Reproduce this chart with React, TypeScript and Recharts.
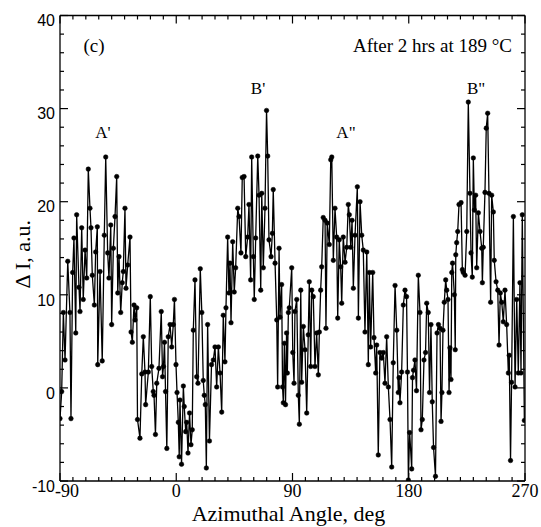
import React from 'react';
import { LineChart, Line, XAxis, YAxis, ReferenceDot } from 'recharts';

const ANGLES = [
  -90.0, -88.7, -87.4, -86.1, -84.0, -82.3, -81.5, -80.2, -79.2, -77.8,
  -77.1, -75.3, -74.5, -73.2, -72.0, -70.6, -69.3, -68.1, -66.8, -66.0,
  -65.0, -63.4, -62.4, -61.1, -60.8, -59.0, -57.3, -55.7, -54.6, -53.1,
  -52.1, -50.7, -50.0, -48.7, -47.4, -46.1, -45.3, -44.3, -43.0, -41.8,
  -41.0, -39.7, -38.9, -37.6, -35.8, -35.0, -34.0, -32.7, -31.9, -30.6,
  -30.0, -28.1, -26.7, -25.5, -24.2, -23.7, -21.6, -20.1, -19.0, -17.8,
  -17.2, -16.1, -15.1, -13.4, -11.6, -10.6, -9.9, -9.1, -8.3, -7.3,
  -6.2, -4.8, -3.5, -2.3, -1.4, -0.2, 0.6, 1.6, 2.3, 2.9,
  4.1, 5.5, 6.2, 7.3, 8.1, 9.1, 10.3, 11.4, 12.4, 13.2,
  14.5, 15.8, 16.8, 18.6, 19.8, 20.9, 21.7, 22.5, 23.3, 24.3,
  25.7, 27.3, 28.7, 30.0, 31.3, 32.6, 33.9, 35.2, 36.4, 37.7,
  38.5, 39.8, 40.8, 41.6, 42.4, 43.7, 44.9, 46.0, 47.6, 48.6,
  50.1, 51.1, 52.5, 53.8, 55.3, 56.3, 57.6, 58.4, 59.7, 60.4,
  61.5, 63.1, 64.1, 65.4, 66.2, 67.4, 68.7, 69.9, 70.8, 71.8,
  73.4, 74.4, 75.1, 76.5, 77.8, 78.5, 79.6, 80.3, 81.6, 82.3,
  82.9, 83.7, 84.6, 85.4, 86.0, 86.8, 87.5, 89.4, 90.2, 91.2,
  91.9, 93.3, 94.5, 95.3, 96.4, 97.1, 98.4, 99.7, 101.0, 102.2,
  103.0, 104.1, 104.9, 106.1, 107.4, 108.7, 110.0, 110.8, 111.8, 112.6,
  113.8, 115.2, 115.9, 116.9, 118.5, 119.6, 120.4, 121.6, 122.9, 124.2,
  125.0, 126.2, 127.3, 128.1, 129.3, 130.7, 132.0, 133.2, 134.0, 135.1,
  136.1, 137.1, 138.4, 140.2, 141.0, 142.3, 143.6, 144.8, 146.1, 147.5,
  148.7, 149.5, 150.5, 152.1, 153.1, 154.4, 155.2, 156.4, 157.7, 159.1,
  160.3, 161.6, 162.9, 164.2, 165.5, 166.8, 168.0, 169.4, 170.7, 171.9,
  172.5, 173.2, 174.5, 175.8, 177.1, 178.3, 179.0, 179.7, 180.7, 182.3,
  182.9, 183.7, 184.8, 186.0, 187.4, 188.7, 189.5, 190.5, 191.8, 193.0,
  193.9, 195.1, 196.1, 197.2, 198.2, 199.2, 200.7, 201.9, 203.0, 204.2,
  205.0, 205.7, 206.5, 207.5, 208.6, 209.4, 210.4, 211.2, 211.9, 212.7,
  213.3, 213.9, 215.3, 216.0, 216.4, 217.1, 217.9, 218.9, 220.5, 221.5,
  222.2, 223.6, 224.9, 226.1, 227.4, 228.2, 229.2, 230.0, 230.8, 231.8,
  232.6, 233.9, 235.2, 236.5, 237.0, 237.7, 239.0, 240.0, 241.1, 242.1,
  243.4, 244.2, 245.5, 246.2, 247.6, 248.9, 249.9, 250.9, 252.0, 253.2,
  254.5, 255.8, 257.1, 257.8, 258.8, 259.6, 261.0, 262.3, 263.6, 264.8,
  266.1, 266.9, 267.9, 269.5,
];

const VALUES = [
  -3.3, -0.4, 8.1, 3.0, 13.6, 8.1, -3.3, 12.4, 16.1, 5.9,
  18.6, 10.8, 8.2, 17.2, 9.5, 14.8, 11.8, 23.5, 19.3, 17.2,
  12.1, 8.9, 14.6, 17.3, 2.5, 12.5, 2.9, 16.4, 24.8, 14.5,
  11.8, 17.5, 6.8, 15.0, 18.4, 22.7, 10.2, 14.1, 8.1, 11.3,
  12.5, 19.3, 10.7, 13.2, 16.2, 6.0, 4.9, 8.9, 7.3, 8.6,
  -3.4, -5.4, 1.5, 5.5, 1.7, -1.8, 1.7, 9.8, 2.3, -0.4,
  -0.8, -5.0, 0.5, 2.1, 8.2, 1.2, 2.3, 4.9, -0.4, -6.5,
  5.5, 6.8, 4.4, 6.8, 9.5, 2.5, -0.5, -3.7, -7.4, -1.3,
  -8.2, 0.2, -2.0, -4.7, -3.7, -7.0, -2.7, -6.1, -4.5, 6.2,
  11.6, 1.2, 0.5, 12.8, 8.1, 0.8, -0.8, -1.8, -8.6, 6.8,
  -5.7, 2.5, 3.0, 4.4, 0.1, 4.4, 1.6, -2.6, 7.8, 2.8,
  8.6, 16.2, 10.2, 13.4, 7.0, 15.7, 10.3, 12.9, 19.3, 18.4,
  14.5, 22.6, 22.7, 14.1, 16.2, 19.7, 11.6, 24.8, 14.1, 9.5,
  16.1, 24.9, 20.7, 10.5, 20.9, 12.9, 19.3, 29.8, 24.9, 15.9,
  14.1, 16.6, 21.3, 13.4, 7.3, 0.1, 15.0, 7.6, 11.1, 0.1,
  -1.6, 4.8, -1.8, 5.9, 1.6, 8.1, 8.6, 12.9, 3.8, 0.5,
  8.2, 9.5, -0.8, -3.9, 10.5, 0.6, 6.6, 4.1, -2.7, 5.7,
  11.4, 2.3, 10.5, 9.8, 2.3, 5.9, 1.4, 6.0, 10.5, 13.0,
  18.3, 18.0, 6.4, 17.7, 15.4, 24.5, 24.8, 13.7, 19.3, 16.2,
  7.5, 15.9, 13.0, 9.1, 16.2, 13.5, 15.1, 19.7, 18.6, 15.1,
  18.0, 10.7, 16.4, 21.6, 7.5, 20.0, 16.4, 14.8, 6.0, 14.6,
  2.5, 12.4, 4.4, 12.4, 5.4, 1.6, 4.6, -7.2, 3.8, 3.2,
  3.8, 0.5, 5.5, 0.1, -3.4, -8.5, 2.7, 11.0, 6.2, -0.5,
  1.1, -1.6, 1.7, 8.9, 10.5, 9.8, 1.7, -9.9, -4.8, -8.7,
  1.1, 1.9, 3.0, -0.3, 12.1, 8.1, -4.5, -3.4, 3.0, 3.8,
  9.1, 8.1, -0.5, 6.8, -1.5, -6.4, -9.5, 5.9, 6.8, 6.4,
  -3.6, -0.5, 6.2, 9.2, 11.6, 10.5, 9.5, -0.5, 4.3, 0.9,
  12.4, 13.4, 10.0, 4.1, 14.3, 15.6, 16.8, 19.7, 19.9, 12.7,
  12.4, 12.1, 16.8, 30.7, 20.9, 14.5, 11.9, 24.7, 19.1, 20.7,
  12.9, 18.8, 16.8, 15.0, 11.3, 15.1, 21.0, 27.9, 29.5, 20.9,
  9.2, 20.7, 18.9, 13.7, 11.4, 10.5, 4.6, 10.2, 9.2, 7.1,
  10.5, 6.8, 1.6, 3.5, -7.8, 0.6, 18.4, 0.1, 9.5, 1.6,
  11.3, 1.6, 18.6, -3.5,
];

const X_TICKS = [
  -90, -80, -70, -60, -50, -40, -30, -20, -10, 0,
  10, 20, 30, 40, 50, 60, 70, 80, 90, 100,
  110, 120, 130, 140, 150, 160, 170, 180, 190, 200,
  210, 220, 230, 240, 250, 260, 270,
];
const X_MAJOR = [-90, 0, 90, 180, 270];
const Y_TICKS = [
  -10, -8, -6, -4, -2, 0, 2, 4, 6, 8, 10, 12, 14, 16, 18, 20,
  22, 24, 26, 28, 30, 32, 34, 36, 38, 40,
];
const Y_MAJOR = [-10, 0, 10, 20, 30, 40];

const data = ANGLES.map((a, i) => ({ angle: a, value: VALUES[i] }));

const SERIF = '"Liberation Serif", "Times New Roman", serif';
const SANS = '"Liberation Sans", Arial, sans-serif';
const INK = '#000';

const BottomTick = (props: any) => {
  const { x, y, payload } = props;
  const v = payload.value;
  const major = X_MAJOR.includes(v);
  return (
    <g>
      <line x1={x} y1={y} x2={x} y2={y - (major ? 8 : 4)} stroke={INK} strokeWidth={1.2} />
      {major && (
        <text x={x + (v === -90 ? 7 : 0)} y={y + 16} textAnchor="middle" fontFamily={SERIF} fontSize={18} fill={INK}>
          {String(v)}
        </text>
      )}
    </g>
  );
};

const TopTick = (props: any) => {
  const { x, y, payload } = props;
  const major = X_MAJOR.includes(payload.value);
  return <line x1={x} y1={y} x2={x} y2={y + (major ? 8 : 4)} stroke={INK} strokeWidth={1.2} />;
};

const LeftTick = (props: any) => {
  const { x, y, payload } = props;
  const v = payload.value;
  const major = Y_MAJOR.includes(v);
  return (
    <g>
      <line x1={x} y1={y} x2={x + (major ? 8 : 4)} y2={y} stroke={INK} strokeWidth={1.2} />
      {major && (
        <text x={x - 5} y={y + 5} dy="0.36em" textAnchor="end" fontFamily={SANS} fontSize={16} fill={INK}>
          {String(v)}
        </text>
      )}
    </g>
  );
};

const RightTick = (props: any) => {
  const { x, y, payload } = props;
  const major = Y_MAJOR.includes(payload.value);
  return <line x1={x} y1={y} x2={x - (major ? 8 : 4)} y2={y} stroke={INK} strokeWidth={1.2} />;
};

const makeText = (txt: string, size: number, anchor: string) => (p: any) => (
  <text x={p.cx} y={p.cy} dy="0.35em" textAnchor={anchor} fontFamily={SERIF} fontSize={size} fill={INK}>
    {txt}
  </text>
);

export default function App() {
  return (
    <div style={{ position: 'absolute', left: 0, top: 0, background: '#fff' }}>
      <LineChart width={541} height={527} data={data} margin={{ top: 14.5, right: 15, bottom: 0, left: 0 }}>
        <XAxis
          xAxisId="b"
          dataKey="angle"
          type="number"
          domain={[-90, 270]}
          ticks={X_TICKS}
          interval={0}
          tick={<BottomTick />}
          tickLine={false}
          tickSize={0}
          tickMargin={0}
          height={46}
          allowDataOverflow
          axisLine={{ stroke: INK, strokeWidth: 1.3 }}
          label={{ value: 'Azimuthal Angle, deg', position: 'insideBottom', offset: 6, dx: -4, fontFamily: SERIF, fontSize: 22, fill: INK }}
        />
        <XAxis
          xAxisId="t"
          dataKey="angle"
          orientation="top"
          type="number"
          domain={[-90, 270]}
          ticks={X_TICKS}
          interval={0}
          tick={<TopTick />}
          tickLine={false}
          tickSize={0}
          tickMargin={0}
          height={1}
          allowDataOverflow
          axisLine={{ stroke: INK, strokeWidth: 1.3 }}
        />
        <YAxis
          yAxisId="l"
          type="number"
          domain={[-10, 40]}
          ticks={Y_TICKS}
          interval={0}
          tick={<LeftTick />}
          tickLine={false}
          tickSize={0}
          tickMargin={0}
          width={60}
          allowDataOverflow
          axisLine={{ stroke: INK, strokeWidth: 1.3 }}
          label={{ value: 'Δ I, a.u.', angle: -90, position: 'center', dx: -8, dy: 6, fontFamily: SERIF, fontSize: 22, fill: INK }}
        />
        <YAxis
          yAxisId="r"
          dataKey="value"
          orientation="right"
          type="number"
          domain={[-10, 40]}
          ticks={Y_TICKS}
          interval={0}
          tick={<RightTick />}
          tickLine={false}
          tickSize={0}
          tickMargin={0}
          width={1}
          allowDataOverflow
          axisLine={{ stroke: INK, strokeWidth: 1.3 }}
        />
        <Line
          xAxisId="t"
          yAxisId="r"
          type="linear"
          dataKey="value"
          stroke="transparent"
          strokeWidth={0}
          dot={false}
          activeDot={false}
          legendType="none"
          isAnimationActive={false}
        />
        <Line
          xAxisId="b"
          yAxisId="l"
          type="linear"
          dataKey="value"
          stroke={INK}
          strokeWidth={1.3}
          dot={{ r: 2.3, fill: INK, stroke: INK, strokeWidth: 0.5 }}
          isAnimationActive={false}
        />
        <ReferenceDot xAxisId="b" yAxisId="l" x={-63.7} y={36.8} r={0} shape={makeText('(c)', 19, 'middle')} />
        <ReferenceDot xAxisId="b" yAxisId="l" x={259.9} y={36.8} r={0} shape={makeText('After 2 hrs at 189 °C', 19, 'end')} />
        <ReferenceDot xAxisId="b" yAxisId="l" x={-56.7} y={27.5} r={0} shape={makeText("A'", 17, 'middle')} />
        <ReferenceDot xAxisId="b" yAxisId="l" x={63.3} y={32.2} r={0} shape={makeText("B'", 17, 'middle')} />
        <ReferenceDot xAxisId="b" yAxisId="l" x={131.4} y={27.5} r={0} shape={makeText('A"', 17, 'middle')} />
        <ReferenceDot xAxisId="b" yAxisId="l" x={232.1} y={32.2} r={0} shape={makeText('B"', 17, 'middle')} />
      </LineChart>
    </div>
  );
}
